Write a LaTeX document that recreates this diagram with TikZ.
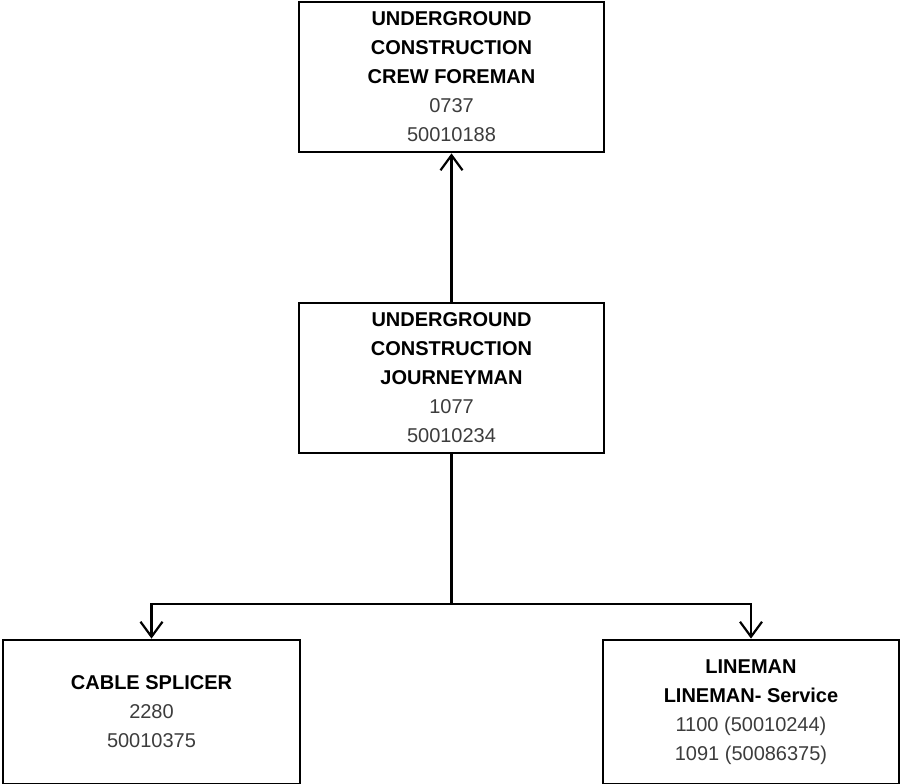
\documentclass[tikz,border=0pt]{standalone}
\usepackage{fontspec}
\setmainfont{Liberation Sans}
\usetikzlibrary{arrows.meta}
\definecolor{numgray}{HTML}{3C3C3C}
\newcommand{\jobtitle}[1]{\textbf{#1}}
\newcommand{\jobnum}[1]{\textcolor{numgray}{#1}}
\begin{document}
\begin{tikzpicture}[x=1pt,y=1pt,
        jobbox/.style={draw, line width=1.4pt, rectangle, inner sep=0pt, align=center,
            font=\fontsize{10}{14.5}\selectfont},
        link/.style={line width=1.2pt, -{Straight Barb[length=7.5pt,width=11pt,line width=1.1pt]}}]
                % Page frame
                \clip (0,0) rectangle (451.5,391.5);

                % Boxes
                %foreman
                \node[jobbox, minimum width=152.5pt, minimum height=75pt] (foreman) at (225.75,353)
                    {\jobtitle{UNDERGROUND}\\\jobtitle{CONSTRUCTION}\\\jobtitle{CREW FOREMAN}\\\jobnum{0737}\\\jobnum{50010188}};
                %journeyman
                \node[jobbox, minimum width=152.5pt, minimum height=75pt] (journeyman) at (225.75,202.5)
                    {\jobtitle{UNDERGROUND}\\\jobtitle{CONSTRUCTION}\\\jobtitle{JOURNEYMAN}\\\jobnum{1077}\\\jobnum{50010234}};
                %splicer
                \node[jobbox, minimum width=148.5pt, minimum height=72pt] (splicer) at (75.75,35.5)
                    {\jobtitle{CABLE SPLICER}\\\jobnum{2280}\\\jobnum{50010375}};
                %lineman
                \node[jobbox, minimum width=148pt, minimum height=72pt] (lineman) at (375.5,35.5)
                    {\jobtitle{LINEMAN}\\\jobtitle{LINEMAN- Service}\\\jobnum{1100 (50010244)}\\\jobnum{1091 (50086375)}};

                % Connectors
                \coordinate (split) at (225.75,89.5);
                \draw[link] (journeyman.north) -- (foreman.south);
                \draw[link] (journeyman.south) -- (split) -| (splicer.north);
                \draw[link] (split) -| (lineman.north);
            \end{tikzpicture}
\end{document}
